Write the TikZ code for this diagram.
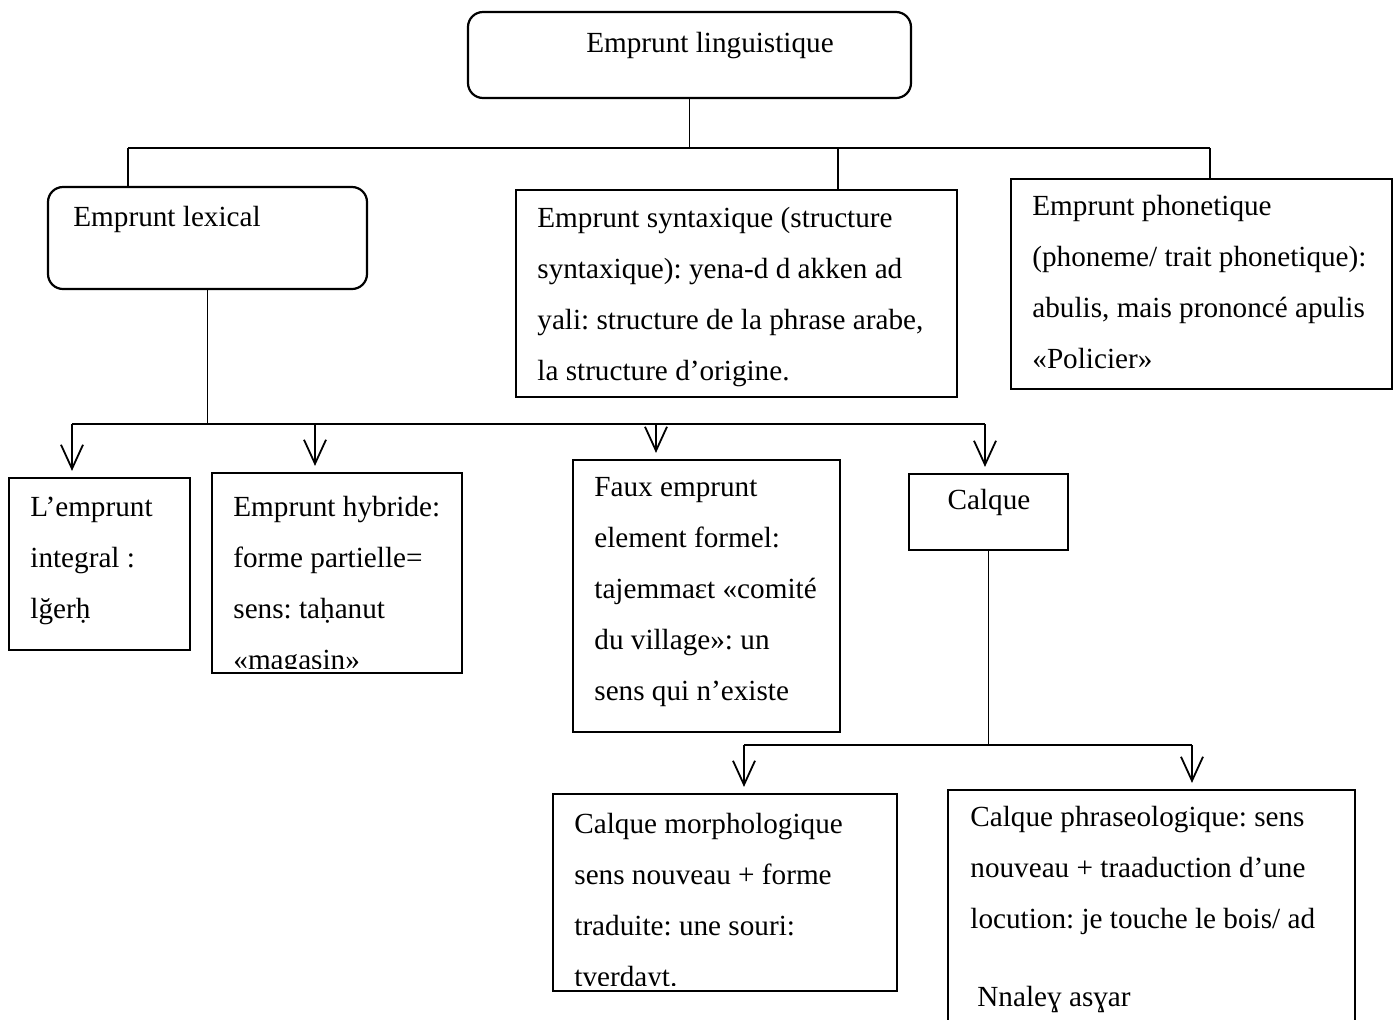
\documentclass[tikz,border=0pt]{standalone}
\usepackage{fontspec}
\setmainfont{Liberation Serif}
\frenchspacing
\usetikzlibrary{arrows.meta, fit}

\tikzset{
  box/.style={draw, line width=1.1pt, inner sep=0pt},
  rbox/.style={box, rounded corners=7.5pt},
  txt/.style={anchor=base west, inner sep=0pt, align=left,
    font=\fontsize{14.6pt}{25.5pt}\selectfont},
  link/.style={line width=0.9pt},
  arr/.style={link, -{Straight Barb[length=12pt, width=11pt]}, shorten >=3pt},
}

\begin{document}
\begin{tikzpicture}[x=0.5pt, y=-0.5pt]
\useasboundingbox (0,0) rectangle (1394,1019);
\clip (0,0) rectangle (1394,1019);

% upper level (text nodes sit on the baseline of their last line)
\node[rbox, fit={(468,12) (911,98)}] (root) {};
\node[txt, anchor=base] (root-t) at (710,52) {Emprunt linguistique};

\node[rbox, fit={(48,187) (367,289)}] (lex) {};
\node[txt] (lex-t) at (73,226) {Emprunt lexical};

\node[box, fit={(516,190) (957,397)}] (syn) {};
\node[txt] (syn-t) at (537,380) {Emprunt syntaxique (structure\\syntaxique): yena-d d akken ad\\yali: structure de la phrase arabe,\\la structure d’origine.};

\node[box, fit={(1011,179) (1392,389)}] (pho) {};
\node[txt] (pho-t) at (1032,368) {Emprunt phonetique\\(phoneme/ trait phonetique):\\abulis, mais prononcé apulis\\«Policier»};

% lexical level
\node[box, fit={(9,478) (190,650)}] (int) {};
\node[txt] (int-t) at (30,618) {L’emprunt\\integral :\\lğerḥ};

\node[box, fit={(212,473) (462,673)}] (hyb) {};
\begin{scope}
  \clip (212,473) rectangle (462,668);
  \node[txt] (hyb-t) at (233,669) {Emprunt hybride:\\forme partielle=\\sens: taḥanut\\«magasin»};
\end{scope}

\node[box, fit={(573,460) (840,732)}] (faux) {};
\node[txt] (faux-t) at (594,700) {Faux emprunt\\element formel:\\tajemmaɛt «comité\\du village»: un\\sens qui n’existe};

\node[box, fit={(909,474) (1068,550)}] (calq) {};
\node[txt, anchor=base] (calq-t) at (989,509) {Calque};

% calque level
\node[box, fit={(553,794) (897,991)}] (morph) {};
\begin{scope}
  \clip (553,794) rectangle (897,985);
  \node[txt] (morph-t) at (574,986) {Calque morphologique\\sens nouveau + forme\\traduite: une souri:\\tverdayt.};
\end{scope}

\node[box, fit={(948,790) (1355,1040)}] (phr) {};
\node[txt] (phr-t) at (970,1006) {Calque phraseologique: sens\\nouveau + traaduction d’une\\locution: je touche le bois/ ad\\[13.5pt]\hspace{3.5pt}Nnaleɣ asɣar};

% connectors
\coordinate (b-lex) at (128,148);
\coordinate (b-syn) at (838,148);
\coordinate (b-pho) at (1210,148);
\draw[link] (root) -- (root |- b-lex);
\draw[link] (b-lex) -- (b-pho);
\draw[link] (b-lex) -- (b-lex |- lex.north);
\draw[link] (b-syn) -- (b-syn |- syn.north);
\draw[link] (b-pho) -- (b-pho |- pho.north);

\coordinate (a-int) at (72,424);
\coordinate (a-hyb) at (315,424);
\coordinate (a-faux) at (656,424);
\coordinate (a-calq) at (985,424);
\draw[link] (lex) -- (lex |- a-int);
\draw[link] (a-int) -- (a-calq);
\foreach \n in {int, hyb, faux, calq}
  \draw[arr] (a-\n) -- (a-\n |- \n.north);

\coordinate (a-morph) at (744,745);
\coordinate (a-phr) at (1192,745);
\draw[link] (calq) -- (calq |- a-morph);
\draw[link] (a-morph) -- (a-phr);
\foreach \n in {morph, phr}
  \draw[arr] (a-\n) -- (a-\n |- \n.north);
\end{tikzpicture}
\end{document}
